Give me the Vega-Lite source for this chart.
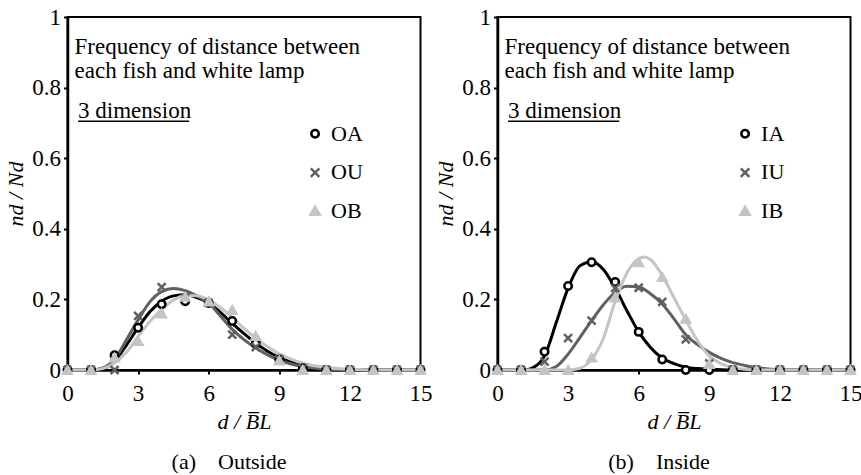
{
  "$schema": "https://vega.github.io/schema/vega-lite/v6.json",
  "background": "white",
  "padding": {"left": 3.5, "top": 5, "right": 0, "bottom": 0},
  "datasets": {
    "curvesA": [
      {"x": 0, "y": 0, "series": "OA"}, {"x": 1, "y": 0, "series": "OA"}, {"x": 1.5, "y": 0.004, "series": "OA"}, {"x": 2, "y": 0.025, "series": "OA"}, {"x": 2.5, "y": 0.07, "series": "OA"}, {"x": 3, "y": 0.12, "series": "OA"}, {"x": 3.5, "y": 0.165, "series": "OA"}, {"x": 4, "y": 0.195, "series": "OA"}, {"x": 4.5, "y": 0.21, "series": "OA"}, {"x": 5, "y": 0.213, "series": "OA"}, {"x": 5.5, "y": 0.205, "series": "OA"}, {"x": 6, "y": 0.19, "series": "OA"}, {"x": 6.5, "y": 0.163, "series": "OA"}, {"x": 7, "y": 0.132, "series": "OA"}, {"x": 7.5, "y": 0.103, "series": "OA"}, {"x": 8, "y": 0.076, "series": "OA"}, {"x": 8.5, "y": 0.053, "series": "OA"}, {"x": 9, "y": 0.035, "series": "OA"}, {"x": 9.5, "y": 0.022, "series": "OA"}, {"x": 10, "y": 0.012, "series": "OA"}, {"x": 11, "y": 0.003, "series": "OA"}, {"x": 12, "y": 0.0005, "series": "OA"}, {"x": 13, "y": 0, "series": "OA"}, {"x": 15, "y": 0, "series": "OA"},
      {"x": 0, "y": 0, "series": "OU"}, {"x": 1, "y": 0, "series": "OU"}, {"x": 1.5, "y": 0.006, "series": "OU"}, {"x": 2, "y": 0.03, "series": "OU"}, {"x": 2.5, "y": 0.085, "series": "OU"}, {"x": 3, "y": 0.142, "series": "OU"}, {"x": 3.5, "y": 0.193, "series": "OU"}, {"x": 4, "y": 0.222, "series": "OU"}, {"x": 4.5, "y": 0.231, "series": "OU"}, {"x": 5, "y": 0.225, "series": "OU"}, {"x": 5.5, "y": 0.21, "series": "OU"}, {"x": 6, "y": 0.19, "series": "OU"}, {"x": 6.5, "y": 0.153, "series": "OU"}, {"x": 7, "y": 0.115, "series": "OU"}, {"x": 7.5, "y": 0.086, "series": "OU"}, {"x": 8, "y": 0.062, "series": "OU"}, {"x": 8.5, "y": 0.043, "series": "OU"}, {"x": 9, "y": 0.028, "series": "OU"}, {"x": 9.5, "y": 0.017, "series": "OU"}, {"x": 10, "y": 0.01, "series": "OU"}, {"x": 11, "y": 0.002, "series": "OU"}, {"x": 12, "y": 0, "series": "OU"}, {"x": 15, "y": 0, "series": "OU"},
      {"x": 0, "y": 0, "series": "OB"}, {"x": 1, "y": 0, "series": "OB"}, {"x": 1.5, "y": 0.004, "series": "OB"}, {"x": 2, "y": 0.02, "series": "OB"}, {"x": 2.5, "y": 0.05, "series": "OB"}, {"x": 3, "y": 0.095, "series": "OB"}, {"x": 3.5, "y": 0.137, "series": "OB"}, {"x": 4, "y": 0.172, "series": "OB"}, {"x": 4.5, "y": 0.198, "series": "OB"}, {"x": 5, "y": 0.211, "series": "OB"}, {"x": 5.5, "y": 0.21, "series": "OB"}, {"x": 6, "y": 0.198, "series": "OB"}, {"x": 6.5, "y": 0.177, "series": "OB"}, {"x": 7, "y": 0.148, "series": "OB"}, {"x": 7.5, "y": 0.118, "series": "OB"}, {"x": 8, "y": 0.09, "series": "OB"}, {"x": 8.5, "y": 0.066, "series": "OB"}, {"x": 9, "y": 0.046, "series": "OB"}, {"x": 9.5, "y": 0.031, "series": "OB"}, {"x": 10, "y": 0.019, "series": "OB"}, {"x": 11, "y": 0.007, "series": "OB"}, {"x": 12, "y": 0.002, "series": "OB"}, {"x": 13, "y": 0, "series": "OB"}, {"x": 15, "y": 0, "series": "OB"}
    ],
    "pointsA": [
      {"x": 0, "y": 0, "series": "OA"}, {"x": 1, "y": 0, "series": "OA"}, {"x": 2, "y": 0.042, "series": "OA"}, {"x": 3, "y": 0.12, "series": "OA"}, {"x": 4, "y": 0.186, "series": "OA"}, {"x": 5, "y": 0.195, "series": "OA"}, {"x": 6, "y": 0.19, "series": "OA"}, {"x": 7, "y": 0.139, "series": "OA"}, {"x": 8, "y": 0.075, "series": "OA"}, {"x": 9, "y": 0.03, "series": "OA"}, {"x": 10, "y": 0.005, "series": "OA"}, {"x": 11, "y": 0, "series": "OA"}, {"x": 12, "y": 0, "series": "OA"}, {"x": 13, "y": 0, "series": "OA"}, {"x": 14, "y": 0, "series": "OA"}, {"x": 15, "y": 0, "series": "OA"},
      {"x": 0, "y": 0, "series": "OU"}, {"x": 1, "y": 0, "series": "OU"}, {"x": 2, "y": 0, "series": "OU"}, {"x": 3, "y": 0.153, "series": "OU"}, {"x": 4, "y": 0.235, "series": "OU"}, {"x": 5, "y": 0.205, "series": "OU"}, {"x": 6, "y": 0.19, "series": "OU"}, {"x": 7, "y": 0.1, "series": "OU"}, {"x": 8, "y": 0.065, "series": "OU"}, {"x": 9, "y": 0.03, "series": "OU"}, {"x": 10, "y": 0.005, "series": "OU"}, {"x": 11, "y": 0, "series": "OU"}, {"x": 12, "y": 0, "series": "OU"}, {"x": 13, "y": 0, "series": "OU"}, {"x": 14, "y": 0, "series": "OU"}, {"x": 15, "y": 0, "series": "OU"},
      {"x": 0, "y": 0, "series": "OB"}, {"x": 1, "y": 0, "series": "OB"}, {"x": 2, "y": 0.035, "series": "OB"}, {"x": 3, "y": 0.082, "series": "OB"}, {"x": 4, "y": 0.16, "series": "OB"}, {"x": 5, "y": 0.207, "series": "OB"}, {"x": 6, "y": 0.194, "series": "OB"}, {"x": 7, "y": 0.17, "series": "OB"}, {"x": 8, "y": 0.096, "series": "OB"}, {"x": 9, "y": 0.027, "series": "OB"}, {"x": 10, "y": 0, "series": "OB"}, {"x": 11, "y": 0, "series": "OB"}, {"x": 12, "y": 0, "series": "OB"}, {"x": 13, "y": 0, "series": "OB"}, {"x": 14, "y": 0, "series": "OB"}, {"x": 15, "y": 0, "series": "OB"}
    ],
    "curvesB": [
      {"x": 0, "y": 0, "series": "IA"}, {"x": 1, "y": 0, "series": "IA"}, {"x": 1.25, "y": 0.001, "series": "IA"}, {"x": 1.5, "y": 0.006, "series": "IA"}, {"x": 2, "y": 0.04, "series": "IA"}, {"x": 2.5, "y": 0.135, "series": "IA"}, {"x": 3, "y": 0.232, "series": "IA"}, {"x": 3.5, "y": 0.295, "series": "IA"}, {"x": 4, "y": 0.307, "series": "IA"}, {"x": 4.5, "y": 0.285, "series": "IA"}, {"x": 5, "y": 0.232, "series": "IA"}, {"x": 5.5, "y": 0.168, "series": "IA"}, {"x": 6, "y": 0.108, "series": "IA"}, {"x": 6.5, "y": 0.064, "series": "IA"}, {"x": 7, "y": 0.034, "series": "IA"}, {"x": 7.5, "y": 0.018, "series": "IA"}, {"x": 8, "y": 0.008, "series": "IA"}, {"x": 8.5, "y": 0.004, "series": "IA"}, {"x": 9, "y": 0.002, "series": "IA"}, {"x": 10, "y": 0, "series": "IA"}, {"x": 15, "y": 0, "series": "IA"},
      {"x": 0, "y": 0, "series": "IU"}, {"x": 2, "y": 0, "series": "IU"}, {"x": 2.5, "y": 0.01, "series": "IU"}, {"x": 3, "y": 0.045, "series": "IU"}, {"x": 3.5, "y": 0.092, "series": "IU"}, {"x": 4, "y": 0.14, "series": "IU"}, {"x": 4.5, "y": 0.185, "series": "IU"}, {"x": 5, "y": 0.22, "series": "IU"}, {"x": 5.5, "y": 0.237, "series": "IU"}, {"x": 6, "y": 0.235, "series": "IU"}, {"x": 6.5, "y": 0.216, "series": "IU"}, {"x": 7, "y": 0.187, "series": "IU"}, {"x": 7.5, "y": 0.145, "series": "IU"}, {"x": 8, "y": 0.1, "series": "IU"}, {"x": 8.5, "y": 0.072, "series": "IU"}, {"x": 9, "y": 0.05, "series": "IU"}, {"x": 9.5, "y": 0.033, "series": "IU"}, {"x": 10, "y": 0.021, "series": "IU"}, {"x": 10.5, "y": 0.013, "series": "IU"}, {"x": 11, "y": 0.007, "series": "IU"}, {"x": 12, "y": 0.001, "series": "IU"}, {"x": 13, "y": 0, "series": "IU"}, {"x": 15, "y": 0, "series": "IU"},
      {"x": 0, "y": 0, "series": "IB"}, {"x": 3, "y": 0, "series": "IB"}, {"x": 3.5, "y": 0.005, "series": "IB"}, {"x": 4, "y": 0.03, "series": "IB"}, {"x": 4.5, "y": 0.09, "series": "IB"}, {"x": 5, "y": 0.195, "series": "IB"}, {"x": 5.5, "y": 0.275, "series": "IB"}, {"x": 6, "y": 0.315, "series": "IB"}, {"x": 6.25, "y": 0.32, "series": "IB"}, {"x": 6.5, "y": 0.313, "series": "IB"}, {"x": 7, "y": 0.268, "series": "IB"}, {"x": 7.5, "y": 0.205, "series": "IB"}, {"x": 8, "y": 0.142, "series": "IB"}, {"x": 8.5, "y": 0.083, "series": "IB"}, {"x": 9, "y": 0.04, "series": "IB"}, {"x": 9.5, "y": 0.018, "series": "IB"}, {"x": 10, "y": 0.007, "series": "IB"}, {"x": 10.5, "y": 0.002, "series": "IB"}, {"x": 11, "y": 0, "series": "IB"}, {"x": 15, "y": 0, "series": "IB"}
    ],
    "pointsB": [
      {"x": 0, "y": 0, "series": "IA"}, {"x": 1, "y": 0, "series": "IA"}, {"x": 2, "y": 0.052, "series": "IA"}, {"x": 3, "y": 0.238, "series": "IA"}, {"x": 4, "y": 0.305, "series": "IA"}, {"x": 5, "y": 0.249, "series": "IA"}, {"x": 6, "y": 0.108, "series": "IA"}, {"x": 7, "y": 0.03, "series": "IA"}, {"x": 8, "y": 0, "series": "IA"}, {"x": 9, "y": 0, "series": "IA"}, {"x": 10, "y": 0, "series": "IA"}, {"x": 11, "y": 0, "series": "IA"}, {"x": 12, "y": 0, "series": "IA"}, {"x": 13, "y": 0, "series": "IA"}, {"x": 14, "y": 0, "series": "IA"}, {"x": 15, "y": 0, "series": "IA"},
      {"x": 0, "y": 0, "series": "IU"}, {"x": 1, "y": 0, "series": "IU"}, {"x": 2, "y": 0.024, "series": "IU"}, {"x": 3, "y": 0.09, "series": "IU"}, {"x": 4, "y": 0.14, "series": "IU"}, {"x": 5, "y": 0.232, "series": "IU"}, {"x": 6, "y": 0.233, "series": "IU"}, {"x": 7, "y": 0.193, "series": "IU"}, {"x": 8, "y": 0.087, "series": "IU"}, {"x": 9, "y": 0.019, "series": "IU"}, {"x": 10, "y": 0, "series": "IU"}, {"x": 11, "y": 0, "series": "IU"}, {"x": 12, "y": 0, "series": "IU"}, {"x": 13, "y": 0, "series": "IU"}, {"x": 14, "y": 0, "series": "IU"}, {"x": 15, "y": 0, "series": "IU"},
      {"x": 0, "y": 0, "series": "IB"}, {"x": 1, "y": 0, "series": "IB"}, {"x": 2, "y": 0, "series": "IB"}, {"x": 3, "y": 0, "series": "IB"}, {"x": 4, "y": 0.035, "series": "IB"}, {"x": 5, "y": 0.205, "series": "IB"}, {"x": 6, "y": 0.305, "series": "IB"}, {"x": 7, "y": 0.263, "series": "IB"}, {"x": 8, "y": 0.145, "series": "IB"}, {"x": 9, "y": 0.017, "series": "IB"}, {"x": 10, "y": 0, "series": "IB"}, {"x": 11, "y": 0, "series": "IB"}, {"x": 12, "y": 0, "series": "IB"}, {"x": 13, "y": 0, "series": "IB"}, {"x": 14, "y": 0, "series": "IB"}, {"x": 15, "y": 0, "series": "IB"}
    ]
  },
  "hconcat": [
    {
      "width": 353,
      "height": 353,
      "title": {"text": "(a)\u00a0\u00a0\u00a0\u00a0Outside", "orient": "bottom", "dx": -15},
      "layer": [
        {
          "data": {"name": "curvesA"},
          "mark": {"type": "line", "interpolate": "monotone", "strokeWidth": 3},
          "encoding": {
            "x": {"field": "x", "type": "quantitative", "scale": {"domain": [0, 15], "nice": false}, "axis": {"values": [0, 3, 6, 9, 12, 15], "title": "d / B̅L", "labelPadding": 8, "titlePadding": 6}},
            "y": {"field": "y", "type": "quantitative", "scale": {"domain": [0, 1], "nice": false}, "axis": {"values": [0, 0.2, 0.4, 0.6, 0.8, 1], "format": ".1~f", "title": "nd / Nd", "labelPadding": 3, "titlePadding": 4}},
            "color": {"field": "series", "type": "nominal", "scale": {"domain": ["OA", "OU", "OB"], "range": ["#000000", "#606060", "#c4c4c4"]}, "legend": null}
          }
        },
        {
          "data": {"name": "pointsA"},
          "mark": {"type": "point", "strokeWidth": 2.5, "opacity": 1},
          "encoding": {
            "x": {"field": "x", "type": "quantitative"},
            "y": {"field": "y", "type": "quantitative"},
            "stroke": {"field": "series", "type": "nominal", "scale": {"domain": ["OA", "OU", "OB"], "range": ["#000000", "#606060", "#c4c4c4"]}, "legend": null},
            "fill": {"field": "series", "type": "nominal", "scale": {"domain": ["OA", "OU", "OB"], "range": ["#ffffff", "#606060", "#c4c4c4"]}, "legend": null},
            "shape": {"field": "series", "type": "nominal", "scale": {"domain": ["OA", "OU", "OB"], "range": ["circle", "M-1,-1L1,1M1,-1L-1,1", "triangle-up"]}, "legend": null},
            "size": {"field": "series", "type": "nominal", "scale": {"domain": ["OA", "OU", "OB"], "range": [56, 72, 85]}, "legend": null}
          }
        },
        {
          "data": {"values": [{}]},
          "mark": {"type": "point", "shape": "circle", "fill": "#ffffff", "stroke": "#000000", "strokeWidth": 2.5, "size": 56, "opacity": 1},
          "encoding": {"x": {"datum": 10.52, "type": "quantitative"}, "y": {"datum": 0.669, "type": "quantitative"}}
        },
        {
          "data": {"values": [{}]},
          "mark": {"type": "point", "shape": "M-1,-1L1,1M1,-1L-1,1", "fill": "#606060", "stroke": "#606060", "strokeWidth": 2.5, "size": 72, "opacity": 1},
          "encoding": {"x": {"datum": 10.52, "type": "quantitative"}, "y": {"datum": 0.559, "type": "quantitative"}}
        },
        {
          "data": {"values": [{}]},
          "mark": {"type": "point", "shape": "triangle-up", "fill": "#c4c4c4", "stroke": "#c4c4c4", "strokeWidth": 2.5, "size": 85, "opacity": 1},
          "encoding": {"x": {"datum": 10.52, "type": "quantitative"}, "y": {"datum": 0.451, "type": "quantitative"}}
        },
        {
          "data": {"values": [{}]},
          "mark": {"type": "text", "text": ["OA", "OU", "OB"], "align": "left", "baseline": "alphabetic", "lineHeight": 38.5, "fontSize": 22, "font": "Liberation Serif", "color": "black"},
          "encoding": {"x": {"datum": 11.2, "type": "quantitative"}, "y": {"datum": 0.649, "type": "quantitative"}}
        },
        {
          "data": {"values": [{}]},
          "mark": {"type": "text", "text": ["Frequency of distance between", "each fish and white lamp"], "align": "left", "baseline": "alphabetic", "lineHeight": 24, "fontSize": 23, "font": "Liberation Serif", "color": "black"},
          "encoding": {"x": {"datum": 0.3, "type": "quantitative"}, "y": {"datum": 0.896, "type": "quantitative"}}
        },
        {
          "data": {"values": [{}]},
          "mark": {"type": "text", "text": "3 dimension", "align": "left", "baseline": "alphabetic", "fontSize": 23, "font": "Liberation Serif", "color": "black"},
          "encoding": {"x": {"datum": 0.45, "type": "quantitative"}, "y": {"datum": 0.715, "type": "quantitative"}}
        },
        {
          "data": {"values": [{}]},
          "mark": {"type": "rule", "color": "black", "strokeWidth": 1.5},
          "encoding": {"x": {"datum": 0.45, "type": "quantitative"}, "x2": {"datum": 5.17}, "y": {"datum": 0.705, "type": "quantitative"}}
        }
      ]
    },
    {
      "width": 353,
      "height": 353,
      "title": {"text": "(b)\u00a0\u00a0\u00a0\u00a0Inside", "orient": "bottom", "dx": -15},
      "layer": [
        {
          "data": {"name": "curvesB"},
          "mark": {"type": "line", "interpolate": "monotone", "strokeWidth": 3},
          "encoding": {
            "x": {"field": "x", "type": "quantitative", "scale": {"domain": [0, 15], "nice": false}, "axis": {"values": [0, 3, 6, 9, 12, 15], "title": "d / B̅L", "labelPadding": 8, "titlePadding": 6}},
            "y": {"field": "y", "type": "quantitative", "scale": {"domain": [0, 1], "nice": false}, "axis": {"values": [0, 0.2, 0.4, 0.6, 0.8, 1], "format": ".1~f", "title": "nd / Nd", "labelPadding": 3, "titlePadding": 4}},
            "color": {"field": "series", "type": "nominal", "scale": {"domain": ["IA", "IU", "IB"], "range": ["#000000", "#606060", "#c4c4c4"]}, "legend": null}
          }
        },
        {
          "data": {"name": "pointsB"},
          "mark": {"type": "point", "strokeWidth": 2.5, "opacity": 1},
          "encoding": {
            "x": {"field": "x", "type": "quantitative"},
            "y": {"field": "y", "type": "quantitative"},
            "stroke": {"field": "series", "type": "nominal", "scale": {"domain": ["IA", "IU", "IB"], "range": ["#000000", "#606060", "#c4c4c4"]}, "legend": null},
            "fill": {"field": "series", "type": "nominal", "scale": {"domain": ["IA", "IU", "IB"], "range": ["#ffffff", "#606060", "#c4c4c4"]}, "legend": null},
            "shape": {"field": "series", "type": "nominal", "scale": {"domain": ["IA", "IU", "IB"], "range": ["circle", "M-1,-1L1,1M1,-1L-1,1", "triangle-up"]}, "legend": null},
            "size": {"field": "series", "type": "nominal", "scale": {"domain": ["IA", "IU", "IB"], "range": [56, 72, 85]}, "legend": null}
          }
        },
        {
          "data": {"values": [{}]},
          "mark": {"type": "point", "shape": "circle", "fill": "#ffffff", "stroke": "#000000", "strokeWidth": 2.5, "size": 56, "opacity": 1},
          "encoding": {"x": {"datum": 10.52, "type": "quantitative"}, "y": {"datum": 0.669, "type": "quantitative"}}
        },
        {
          "data": {"values": [{}]},
          "mark": {"type": "point", "shape": "M-1,-1L1,1M1,-1L-1,1", "fill": "#606060", "stroke": "#606060", "strokeWidth": 2.5, "size": 72, "opacity": 1},
          "encoding": {"x": {"datum": 10.52, "type": "quantitative"}, "y": {"datum": 0.559, "type": "quantitative"}}
        },
        {
          "data": {"values": [{}]},
          "mark": {"type": "point", "shape": "triangle-up", "fill": "#c4c4c4", "stroke": "#c4c4c4", "strokeWidth": 2.5, "size": 85, "opacity": 1},
          "encoding": {"x": {"datum": 10.52, "type": "quantitative"}, "y": {"datum": 0.451, "type": "quantitative"}}
        },
        {
          "data": {"values": [{}]},
          "mark": {"type": "text", "text": ["IA", "IU", "IB"], "align": "left", "baseline": "alphabetic", "lineHeight": 38.5, "fontSize": 22, "font": "Liberation Serif", "color": "black"},
          "encoding": {"x": {"datum": 11.2, "type": "quantitative"}, "y": {"datum": 0.649, "type": "quantitative"}}
        },
        {
          "data": {"values": [{}]},
          "mark": {"type": "text", "text": ["Frequency of distance between", "each fish and white lamp"], "align": "left", "baseline": "alphabetic", "lineHeight": 24, "fontSize": 23, "font": "Liberation Serif", "color": "black"},
          "encoding": {"x": {"datum": 0.3, "type": "quantitative"}, "y": {"datum": 0.896, "type": "quantitative"}}
        },
        {
          "data": {"values": [{}]},
          "mark": {"type": "text", "text": "3 dimension", "align": "left", "baseline": "alphabetic", "fontSize": 23, "font": "Liberation Serif", "color": "black"},
          "encoding": {"x": {"datum": 0.45, "type": "quantitative"}, "y": {"datum": 0.715, "type": "quantitative"}}
        },
        {
          "data": {"values": [{}]},
          "mark": {"type": "rule", "color": "black", "strokeWidth": 1.5},
          "encoding": {"x": {"datum": 0.45, "type": "quantitative"}, "x2": {"datum": 5.17}, "y": {"datum": 0.705, "type": "quantitative"}}
        }
      ]
    }
  ],
  "spacing": 0,
  "resolve": {
    "scale": {"color": "independent", "stroke": "independent", "fill": "independent", "shape": "independent", "size": "independent"}
  },
  "config": {
    "font": "Liberation Serif",
    "view": {"stroke": "black", "strokeWidth": 2},
    "axis": {"domainColor": "black", "domainWidth": 2.5, "tickColor": "black", "tickWidth": 2, "tickSize": 4, "labelFont": "Liberation Serif", "labelFontSize": 23, "labelColor": "black", "titleFont": "Liberation Serif", "titleFontSize": 22, "titleFontStyle": "italic", "titleFontWeight": "normal", "titleColor": "black", "grid": false, "labelFlush": false},
    "title": {"font": "Liberation Serif", "fontSize": 22, "fontWeight": "normal", "color": "black", "offset": 20}
  }
}
